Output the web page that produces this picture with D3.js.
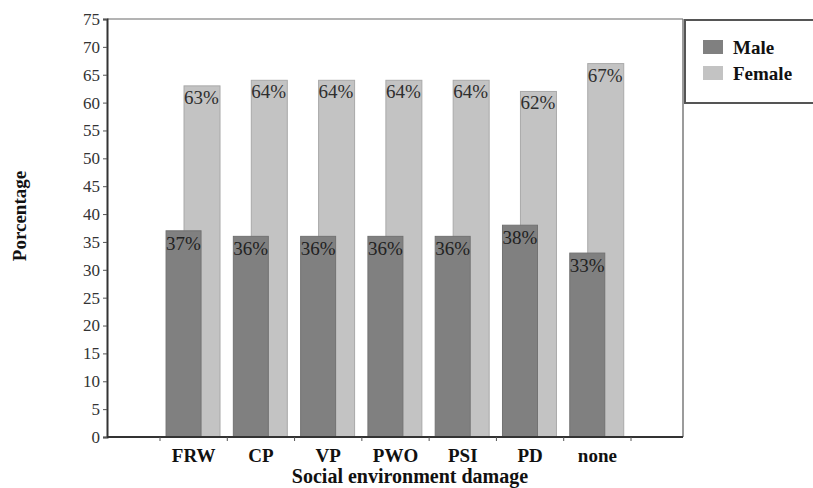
<html>
<head>
  <meta charset="utf-8" />
  <script src="https://cdn.jsdelivr.net/npm/d3@7"></script>
  <style>
    body { margin: 0; background: #fff; }
  </style>
</head>
<body>
<svg id="chart" width="813" height="488" style="font-family: 'Liberation Serif', serif"></svg>
<script>
// data
const categories = ['FRW', 'CP', 'VP', 'PWO', 'PSI', 'PD', 'none']
const male = [37, 36, 36, 36, 36, 38, 33]
const female = [63, 64, 64, 64, 64, 62, 67]
const yTicks = [0, 5, 10, 15, 20, 25, 30, 35, 40, 45, 50, 55, 60, 65, 70, 75]
const seriesNames = ['Male', 'Female']

const serif = "'Liberation Serif', 'Times New Roman', serif"
const svg = d3.select('#chart')
const pLeft = 107, pRight = 683, pTop = 19, pBottom = 437

const x = d3.scaleBand().domain(categories).range([160, 631]).padding(0)
const y = d3.scaleLinear().domain([0, 75]).range([pBottom, pTop])
const bw = x.bandwidth()

// frame (top + right)
svg.append('line').attr('x1', pLeft).attr('x2', pRight).attr('y1', pTop).attr('y2', pTop)
  .attr('stroke', '#9a9a9a').attr('stroke-width', 1.5)
svg.append('line').attr('x1', pRight).attr('x2', pRight).attr('y1', pTop).attr('y2', pBottom)
  .attr('stroke', '#7a7a7a').attr('stroke-width', 1.5)

// female bars (behind)
svg.selectAll('.fbar').data(female).enter().append('rect')
  .attr('x', (d, i) => x(categories[i]) + bw * 0.357)
  .attr('width', bw * 0.535)
  .attr('y', d => y(d))
  .attr('height', d => pBottom - y(d))
  .attr('fill', '#c3c3c3').attr('stroke', '#a9a9a9').attr('stroke-width', 1)

svg.selectAll('.flab').data(female).enter().append('text')
  .attr('x', (d, i) => x(categories[i]) + bw * 0.357)
  .attr('y', d => y(d) + 18)
  .style('font-family', serif).style('font-size', '19px').attr('fill', '#2e2e2e')
  .text(d => d + '%')

// male bars (front)
svg.selectAll('.mbar').data(male).enter().append('rect')
  .attr('x', (d, i) => x(categories[i]) + bw * 0.09)
  .attr('width', bw * 0.52)
  .attr('y', d => y(d))
  .attr('height', d => pBottom - y(d))
  .attr('fill', '#808080').attr('stroke', '#727272').attr('stroke-width', 1)

svg.selectAll('.mlab').data(male).enter().append('text')
  .attr('x', (d, i) => x(categories[i]) + bw * 0.09)
  .attr('y', d => y(d) + 19)
  .style('font-family', serif).style('font-size', '19px').attr('fill', '#222')
  .text(d => d + '%')

// y axis
const yAxis = svg.append('g').attr('transform', `translate(${pLeft},0)`)
  .call(d3.axisLeft(y).tickValues(yTicks).tickSize(4).tickPadding(3))
yAxis.attr('font-family', null).attr('font-size', null)
yAxis.select('.domain').attr('stroke', '#333').attr('stroke-width', 2)
yAxis.selectAll('.tick line').attr('stroke', '#555')
yAxis.selectAll('.tick text').style('font-family', serif).style('font-size', '17px').attr('fill', '#333')

// x axis
svg.append('line').attr('x1', pLeft).attr('x2', pRight).attr('y1', pBottom).attr('y2', pBottom)
  .attr('stroke', '#333').attr('stroke-width', 2)
const bounds = categories.map(c => x(c)).concat([x(categories[categories.length - 1]) + bw])
svg.selectAll('.xtick').data(bounds).enter().append('line')
  .attr('x1', d => d).attr('x2', d => d).attr('y1', pBottom).attr('y2', pBottom + 4)
  .attr('stroke', '#555')
svg.selectAll('.xlab').data(categories).enter().append('text')
  .attr('x', d => x(d) + bw / 2)
  .attr('y', 462)
  .attr('text-anchor', 'middle')
  .style('font-family', serif).style('font-size', '19px').style('font-weight', 'bold').attr('fill', '#111')
  .text(d => d)

// axis titles
svg.append('text').attr('x', 410).attr('y', 483).attr('text-anchor', 'middle')
  .style('font-family', serif).style('font-size', '20px').style('font-weight', 'bold').attr('fill', '#111')
  .text('Social environment damage')
svg.append('text').attr('transform', 'translate(26,216) rotate(-90)')
  .attr('text-anchor', 'middle')
  .style('font-family', serif).style('font-size', '19px').style('font-weight', 'bold').attr('fill', '#111')
  .text('Porcentage')

// legend
const colors = ['#808080', '#c3c3c3']
svg.append('rect').attr('x', 685).attr('y', 20).attr('width', 140).attr('height', 83)
  .attr('fill', '#fff').attr('stroke', '#555').attr('stroke-width', 2)
const lg = svg.selectAll('.leg').data(seriesNames).enter().append('g')
  .attr('transform', (d, i) => `translate(703,${40 + i * 26})`)
lg.append('rect').attr('width', 20).attr('height', 14).attr('fill', (d, i) => colors[i])
lg.append('text').attr('x', 30).attr('y', 14)
  .style('font-family', serif).style('font-size', '19px').style('font-weight', 'bold').attr('fill', '#111')
  .text(d => d)
</script>
</body>
</html>
